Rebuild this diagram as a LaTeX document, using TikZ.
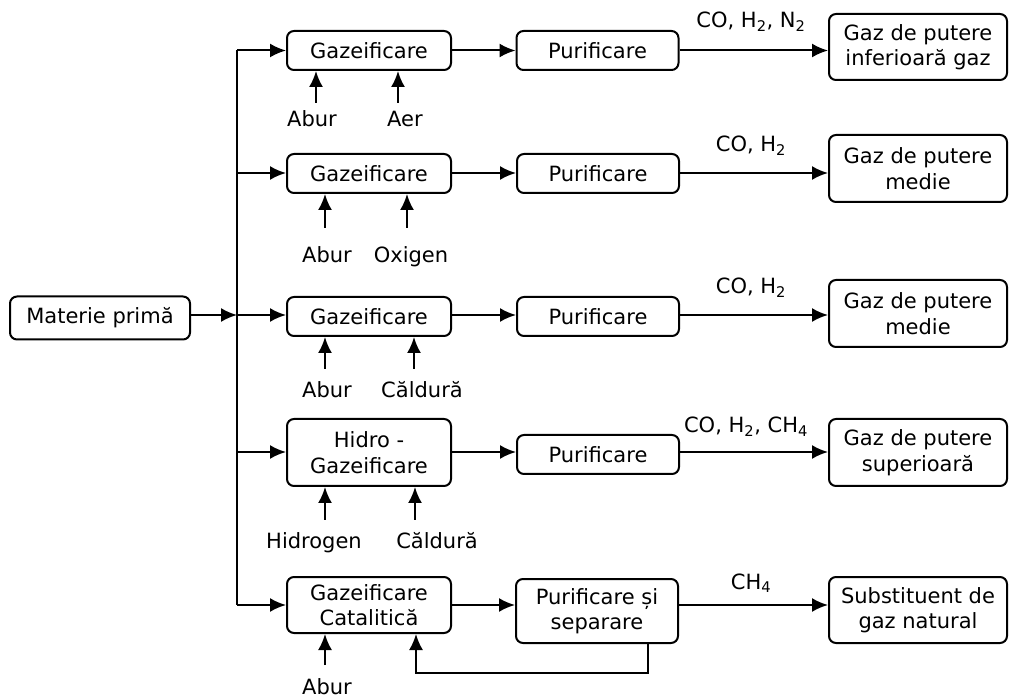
\documentclass[tikz,border=0pt]{standalone}
\usepackage{fontspec}
\setmainfont{DejaVu Sans}
\usetikzlibrary{arrows.meta}

\begin{document}
\begin{tikzpicture}[x=1pt,y=-1pt,
  every node/.style={font=\fontsize{21}{25.5}\selectfont},
  box/.style={draw, rounded corners=7pt, line width=2pt, align=center, inner sep=0pt},
  gas/.style={box, minimum width=164, minimum height=39},
  pur/.style={box, minimum width=162, minimum height=39},
  outbox/.style={box, minimum width=178, minimum height=66},
  wire/.style={line width=2pt},
  arr/.style={wire, -{Latex[length=16pt,width=14pt]}},
  lbl/.style={anchor=base, inner sep=0pt}
]
\useasboundingbox (0,0) rectangle (1010,700);

% feedstock
\node[box, minimum width=180, minimum height=43] (mp) at (100,318) {Materie primă};

% row 1
\node[gas] (g1) at (369,50.5) {Gazeificare};
\node[pur] (p1) at (597.5,50.5) {Purificare};
\node[outbox] (o1) at (918,47) {Gaz de putere\\inferioară gaz};
% row 2
\node[gas] (g2) at (369,173.5) {Gazeificare};
\node[pur] (p2) at (598,173.5) {Purificare};
\node[outbox, minimum height=67] (o2) at (918,168.5) {Gaz de putere\\medie};
% row 3
\node[gas] (g3) at (369,316.5) {Gazeificare};
\node[pur] (p3) at (598,316.5) {Purificare};
\node[outbox, minimum height=67] (o3) at (918,313.5) {Gaz de putere\\medie};
% row 4
\node[gas, minimum height=67] (g4) at (369,452.5) {Hidro -\\Gazeificare};
\node[pur] (p4) at (598,454.5) {Purificare};
\node[outbox, minimum height=67] (o4) at (918,452.5) {Gaz de putere\\superioară};
% row 5
\node[gas, minimum height=56] (g5) at (369,605) {Gazeificare\\Catalitică};
\node[pur, minimum height=64] (p5) at (597,611) {Purificare și\\separare};
\node[outbox] (o5) at (918,610) {Substituent de\\gaz natural};

% flow levels and distribution bus
\coordinate (bus) at (237,0);
\coordinate (r1) at (0,50.5);
\coordinate (r2) at (0,173);
\coordinate (r3) at (0,315);
\coordinate (r4) at (0,452);
\coordinate (r5) at (0,605);

\draw[wire] (bus |- r1) -- (bus |- r5);
\draw[arr] (mp.east |- r3) -- (bus |- r3);
\foreach \g/\p/\o/\r in {g1/p1/o1/r1, g2/p2/o2/r2, g3/p3/o3/r3, g4/p4/o4/r4, g5/p5/o5/r5}{
  \draw[arr] (bus |- \r) -- (\g.west |- \r);
  \draw[arr] (\g.east |- \r) -- (\p.west |- \r);
  \draw[arr] (\p.east |- \r) -- (\o.west |- \r);
}

% product labels
\node[lbl] (c1) at (751,28) {CO, H\textsubscript{2}, N\textsubscript{2}};
\node[lbl] (c2) at (751,152) {CO, H\textsubscript{2}};
\node[lbl] (c3) at (751,294) {CO, H\textsubscript{2}};
\node[lbl] (c4) at (746,433) {CO, H\textsubscript{2}, CH\textsubscript{4}};
\node[lbl] (c5) at (751,589) {CH\textsubscript{4}};

% reactant inputs
\foreach \g/\x/\y/\n in {g1/316/103/a1, g1/398/103/b1, g2/325/228/a2, g2/407/228/b2,
                          g3/325/369/a3, g3/414/369/b3, g4/325/520/a4, g4/415/520/b4,
                          g5/325/665/a5}{
  \coordinate (\n) at (\x,\y);
  \draw[arr] (\n) -- (\g.south -| \n);
}
\node[lbl] (t1a) at (312,127) {Abur};
\node[lbl] (t1b) at (405,127) {Aer};
\node[lbl] (t2a) at (327,263) {Abur};
\node[lbl] (t2b) at (411,263) {Oxigen};
\node[lbl] (t3a) at (327,398) {Abur};
\node[lbl] (t3b) at (422,398) {Căldură};
\node[lbl] (t4a) at (314,548) {Hidrogen};
\node[lbl] (t4b) at (437,548) {Căldură};
\node[lbl] (t5a) at (327,694) {Abur};

% recycle loop
\coordinate (fb1) at (648,673);
\coordinate (fb2) at (416,673);
\draw[arr] (p5.south -| fb1) -- (fb1) -- (fb2) -- (g5.south -| fb2);
\end{tikzpicture}
\end{document}
